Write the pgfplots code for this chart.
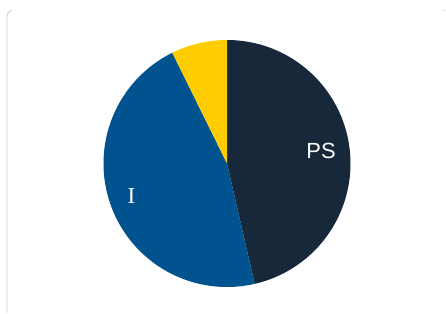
\documentclass[border=0pt]{standalone}
\usepackage{pgfplots}
\pgfplotsset{compat=1.18}
\usepackage{pgfplotstable}
\usepackage{fontspec}
\setmainfont{Liberation Sans}
\newfontfamily\serifI{Liberation Serif}
\definecolor{cPS}{HTML}{17283B}
\definecolor{cI}{HTML}{01538F}
\definecolor{cY}{HTML}{FFCC00}
\definecolor{frame}{HTML}{D0D0D0}
\pgfplotstableread{
label value
PS 46.4
I 46.3
Other 7.3
}\piedata
\pgfplotstablegetelem{0}{value}\of\piedata \let\vA\pgfplotsretval
\pgfplotstablegetelem{1}{value}\of\piedata \let\vB\pgfplotsretval
\pgfplotstablegetelem{2}{value}\of\piedata \let\vC\pgfplotsretval
\pgfmathsetmacro\tot{\vA+\vB+\vC}
\pgfmathsetmacro\aA{360*(\vA/\tot)}
\pgfmathsetmacro\aB{360*((\vA+\vB)/\tot)}
\begin{document}
\begin{tikzpicture}
\useasboundingbox (0,0) rectangle (446bp,314bp);
\begin{axis}[
  at={(0,0)}, anchor=south west,
  width=446bp, height=314bp, scale only axis,
  xmin=0, xmax=446, ymin=0, ymax=314, y dir=reverse,
  hide axis, clip=true,
]
\draw[frame, line width=0.9bp] (axis cs:7,313) -- (axis cs:7,17) .. controls (axis cs:7,13.5) and (axis cs:8.5,11.5) .. (axis cs:11.5,10.2);
\draw[frame, line width=0.9bp] (axis cs:443.5,9.8) -- (axis cs:445,10.8);
\addplot[fill=cPS, draw=none, domain=0:\aA, samples=120, variable=\t]
  ({227+123.5*sin(t)}, {163.5-123.5*cos(t)}) -- (axis cs:227,163.5) -- cycle;
\addplot[fill=cI, draw=none, domain=\aA:\aB, samples=120, variable=\t]
  ({227+123.5*sin(t)}, {163.5-123.5*cos(t)}) -- (axis cs:227,163.5) -- cycle;
\addplot[fill=cY, draw=none, domain=\aB:360, samples=30, variable=\t]
  ({227+123.5*sin(t)}, {163.5-123.5*cos(t)}) -- (axis cs:227,163.5) -- cycle;
\node[white, font=\fontsize{22}{22}\selectfont] at (axis cs:321,151) {PS};
\node[white, font=\serifI\fontsize{23}{23}\selectfont] at (axis cs:131.5,195.5) {I};
\end{axis}
\end{tikzpicture}
\end{document}
